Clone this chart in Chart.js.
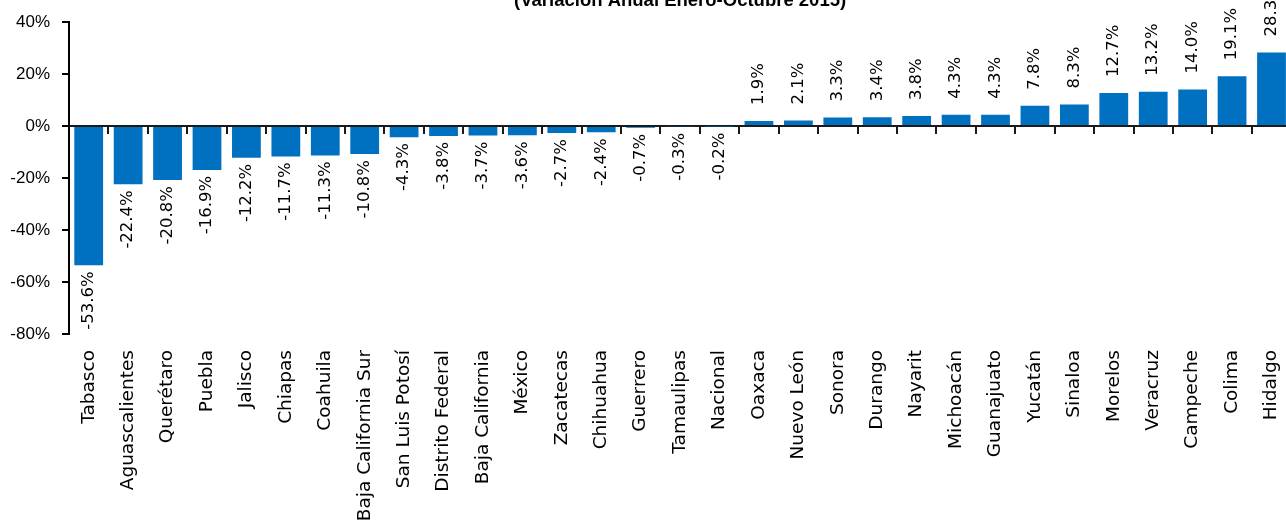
<!DOCTYPE html>
<html>
<head>
<meta charset="utf-8">
<script src="https://cdn.jsdelivr.net/npm/chart.js@4/dist/chart.umd.min.js"></script>
<style>
  body { margin: 0; background: #fff; }
  #wrap { position: relative; width: 1286px; height: 521px; overflow: hidden; }
  #chart { position: absolute; left: 0; top: -20px; }
</style>
</head>
<body>
<div id="wrap"><canvas id="chart" width="1310" height="541"></canvas></div>
<script>
const titleText = "(Variación Anual Enero-Octubre 2015)";

const states = [
  "Tabasco", "Aguascalientes", "Querétaro", "Puebla", "Jalisco", "Chiapas",
  "Coahuila", "Baja California Sur", "San Luis Potosí", "Distrito Federal",
  "Baja California", "México", "Zacatecas", "Chihuahua", "Guerrero",
  "Tamaulipas", "Nacional", "Oaxaca", "Nuevo León", "Sonora", "Durango",
  "Nayarit", "Michoacán", "Guanajuato", "Yucatán", "Sinaloa", "Morelos",
  "Veracruz", "Campeche", "Colima", "Hidalgo"
];

const variation = [
  -53.6, -22.4, -20.8, -16.9, -12.2, -11.7, -11.3, -10.8, -4.3, -3.8,
  -3.7, -3.6, -2.7, -2.4, -0.7, -0.3, -0.2, 1.9, 2.1, 3.3, 3.4,
  3.8, 4.3, 4.3, 7.8, 8.3, 12.7, 13.2, 14.0, 19.1, 28.3
];

const yTicks = [-80, -60, -40, -20, 0, 20, 40];

const axisColor = "#1a1a1a";

// rotated value labels at the bar ends
const valueLabels = {
  id: "valueLabels",
  afterDatasetsDraw(chart) {
    const ctx = chart.ctx;
    const meta = chart.getDatasetMeta(0);
    ctx.save();
    ctx.font = "16.5px 'DejaVu Sans'";
    ctx.fillStyle = "#000";
    ctx.textBaseline = "middle";
    meta.data.forEach((bar, i) => {
      const v = variation[i];
      const txt = v.toFixed(1) + "%";
      ctx.save();
      if (v >= 0) {
        ctx.translate(bar.x, bar.y - 16);
        ctx.rotate(-Math.PI / 2);
        ctx.textAlign = "left";
      } else {
        ctx.translate(bar.x, bar.y + 6);
        ctx.rotate(-Math.PI / 2);
        ctx.textAlign = "right";
      }
      ctx.fillText(txt, 0, 0);
      ctx.restore();
    });
    ctx.restore();
  }
};

new Chart(document.getElementById("chart"), {
  type: "bar",
  data: {
    labels: states,
    datasets: [{
      data: variation,
      backgroundColor: "#0070C0",
      categoryPercentage: 1,
      barPercentage: 0.73
    }]
  },
  options: {
    responsive: false,
    animation: false,
    layout: { padding: { left: 0, right: 16, top: 0, bottom: 0 } },
    plugins: {
      legend: { display: false },
      tooltip: { enabled: false },
      title: {
        display: true,
        text: titleText,
        fullSize: false,
        color: "#000",
        font: { family: "'Liberation Sans'", size: 18.5, weight: "bold" },
        padding: { top: 9.4, bottom: 10.4 }
      }
    },
    scales: {
      x: {
        position: "bottom",
        grid: { display: false, drawTicks: false },
        border: { display: false },
        ticks: {
          autoSkip: false,
          minRotation: 90,
          maxRotation: 90,
          padding: 16,
          color: "#000",
          font: { family: "'DejaVu Sans'", size: 18.5 }
        },
        afterFit(scale) { scale.height = 187; }
      },
      x2: {
        type: "category",
        labels: states,
        position: { y: 0 },
        offset: true,
        z: 1,
        grid: {
          display: true,
          offset: true,
          drawOnChartArea: false,
          drawTicks: true,
          tickLength: 7,
          color: axisColor,
          lineWidth: 2
        },
        border: { display: true, color: axisColor, width: 2 },
        ticks: { display: false }
      },
      y: {
        min: yTicks[0],
        max: yTicks[yTicks.length - 1],
        afterBuildTicks(scale) { scale.ticks = yTicks.map(v => ({ value: v })); },
        grid: {
          drawOnChartArea: false,
          drawTicks: true,
          tickLength: 7,
          color: "#000",
          lineWidth: 2
        },
        border: { display: true, color: "#000", width: 2 },
        ticks: {
          padding: 12,
          color: "#000",
          font: { family: "'Liberation Sans'", size: 17 },
          callback: v => v + "%"
        },
        afterFit(scale) { scale.width = 69; }
      }
    }
  },
  plugins: [valueLabels]
});
</script>
</body>
</html>
